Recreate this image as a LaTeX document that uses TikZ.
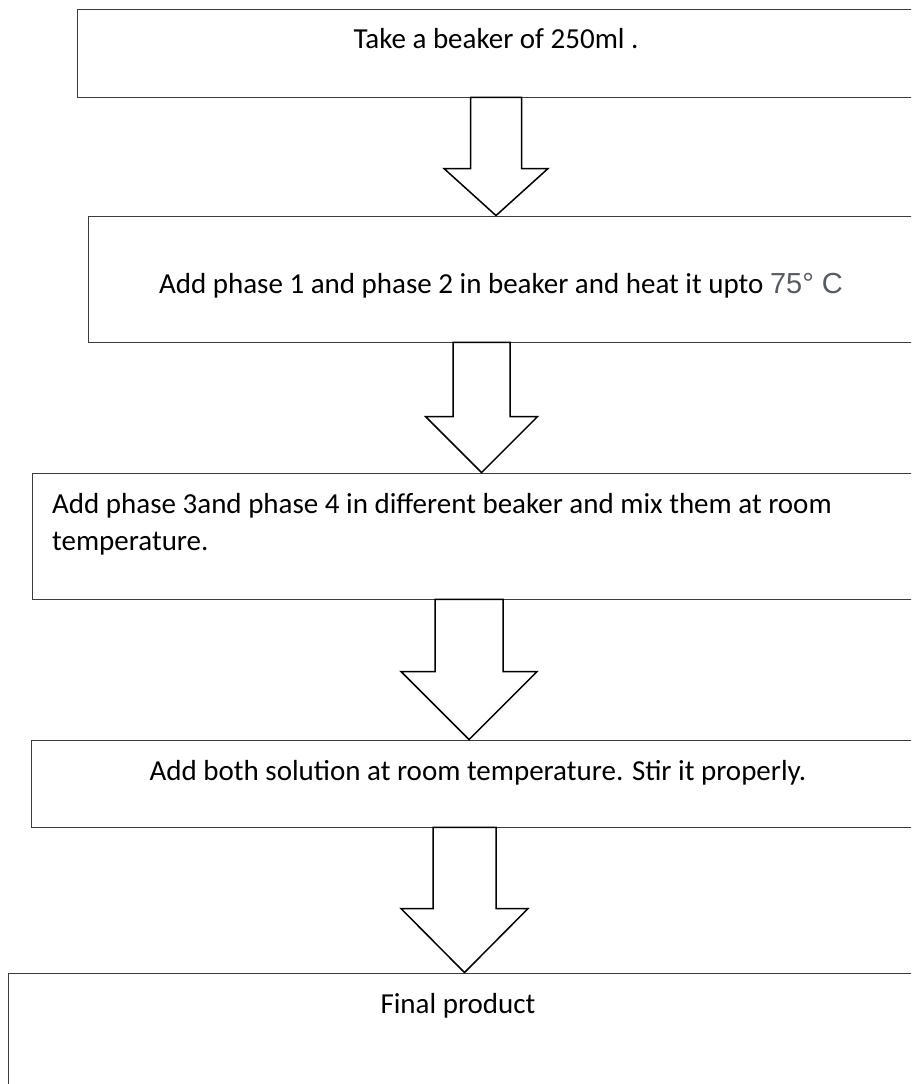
\documentclass[tikz,border=0pt]{standalone}
\usepackage{fontspec}
\setmainfont{Carlito}
\newfontfamily\arialfont{Liberation Sans}
\usepackage{tikz}
\usetikzlibrary{fit,calc}
\definecolor{boxgrey}{RGB}{60,60,60}
\definecolor{degreegrey}{RGB}{88,92,96}
% hollow arrow from box #1 down to box #2: centre x, half shaft, half head, head length
\newcommand{\flowarrow}[6]{%
  \draw[blockarrow] ($(#3,0 |- #1.south)+(-#4,0)$) -- ($(#3,0 |- #1.south)+(#4,0)$)
    -- ($(#3,0 |- #2.north)+(#4,-#6)$) -- ($(#3,0 |- #2.north)+(#5,-#6)$)
    -- (#3,0 |- #2.north)
    -- ($(#3,0 |- #2.north)+(-#5,-#6)$) -- ($(#3,0 |- #2.north)+(-#4,-#6)$) -- cycle;}

\begin{document}
\begin{tikzpicture}[x=1pt,y=-1pt,
        stepbox/.style={draw=boxgrey,line width=0.9pt,inner sep=0pt},
        steptext/.style={inner sep=0pt,font=\fontsize{29}{37}\selectfont},
        blockarrow/.style={draw=black,fill=white,line width=1.5pt,line join=miter},
        ]
        \clip (0,0) rectangle (911,1084);
        % the boxes
        \node[stepbox,fit={(77,9) (1000,97)}] (take) {};
        \node[stepbox,fit={(88,216) (1000,342)}] (heat) {};
        \node[stepbox,fit={(32,473) (1000,599)}] (mix) {};
        \node[stepbox,fit={(31,740) (1000,827)}] (stir) {};
        \node[stepbox,fit={(8,973) (1000,1200)}] (final) {};
        % their texts
        \node[steptext,anchor=base] (taketext) at (496,48) {Take a beaker of 250ml .};
        \node[steptext,anchor=base] (heattext) at (501,293) {Add phase 1 and phase 2 in beaker and heat it upto {\arialfont\color{degreegrey}75° C}};
        \node[steptext,anchor=base west,align=left] (mixtext) at (52,550) {Add phase 3and phase 4 in different beaker and mix them at room\\temperature.};
        \node[steptext,anchor=base] (stirtext) at (478,780) {Add both solution at room temperature. Stir it properly.};
        \node[steptext,anchor=base] (finaltext) at (458,1013) {Final product};
        % arrows between them
        \flowarrow{take}{heat}{496}{25.5}{52}{47}
        \flowarrow{heat}{mix}{481.5}{28.5}{56}{56}
        \flowarrow{mix}{stir}{469}{34}{68}{68}
        \flowarrow{stir}{final}{464.5}{31.5}{63.5}{64}
\end{tikzpicture}
\end{document}
